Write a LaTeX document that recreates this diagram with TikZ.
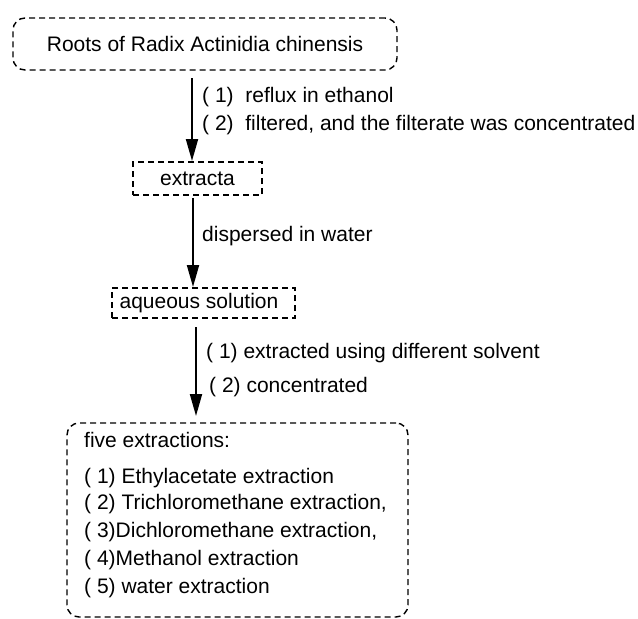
\documentclass[tikz,border=0pt]{standalone}
\usepackage{fontspec}
\setmainfont{Liberation Sans}
\usetikzlibrary{arrows.meta}
\begin{document}
\begin{tikzpicture}[x=1pt,y=-1pt,
  font=\fontsize{21}{25}\selectfont,
  dbox/.style={draw, dash pattern=on 6pt off 4pt, line width=1.4pt, inner sep=0pt},
  rbox/.style={dbox, rounded corners=12pt},
  lbl/.style={anchor=west, inner sep=0pt},
  arr/.style={line width=1.9pt, -{Triangle[length=22pt,width=12pt]}}]
\useasboundingbox (0,0) rectangle (638,619);
% boxes
\node[rbox, minimum width=384pt, minimum height=52pt] (top) at (205,44) {};
\node (toptxt) at (205,44) {Roots of Radix Actinidia chinensis};
\node[dbox, minimum width=129pt, minimum height=33pt] (ex) at (197.5,178.5) {};
\node (extxt) at (197.5,178.5) {extracta};
\node[dbox, minimum width=183pt, minimum height=30pt] (aq) at (203.5,303) {};
\node (aqtxt) at (199,303) {aqueous solution};
\node[rbox, minimum width=341pt, minimum height=194pt] (five) at (237.5,520) {};
\node[lbl] (f0) at (84,440) {five extractions:};
\node[lbl] (f1) at (84,478) {( 1) Ethylacetate extraction};
\node[lbl] (f2) at (84,504) {( 2) Trichloromethane extraction,};
\node[lbl] (f3) at (84,532) {( 3)Dichloromethane extraction,};
\node[lbl] (f4) at (84,560) {( 4)Methanol extraction};
\node[lbl] (f5) at (84,588) {( 5) water extraction};
% connector ends
\coordinate (a1s) at (192,78);
\coordinate (a1e) at (192,161);
\coordinate (a2s) at (193,198);
\coordinate (a2e) at (193,287);
\coordinate (a3s) at (196,327);
\coordinate (a3e) at (196,416);
\draw[arr] (a1s) -- (a1e);
\draw[arr] (a2s) -- (a2e);
\draw[arr] (a3s) -- (a3e);
% labels
\node[lbl] (l11) at (202,97) {( 1)\ \ reflux in ethanol};
\node[lbl] (l12) at (202,125) {( 2)\ \ filtered, and the filterate was concentrated};
\node[lbl] (l2) at (202,236) {dispersed in water};
\node[lbl] (l31) at (206,353) {( 1) extracted using different solvent};
\node[lbl] (l32) at (209,387) {( 2) concentrated};
\end{tikzpicture}
\end{document}
